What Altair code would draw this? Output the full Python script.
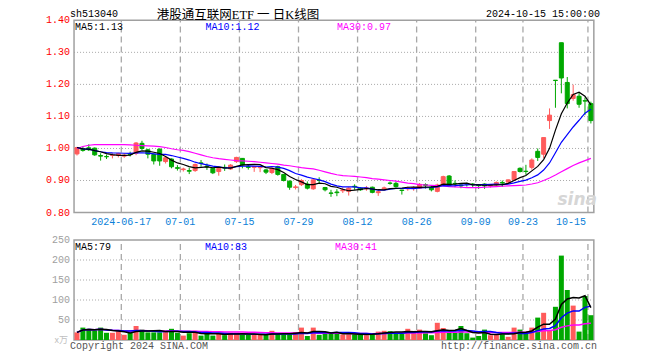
import altair as alt
import pandas as pd

# ---------------- data ----------------
dates = ["06-04", "06-05", "06-06", "06-07", "06-11", "06-12", "06-13", "06-14",
         "06-17", "06-18", "06-19", "06-20", "06-21",
         "06-24", "06-25", "06-26", "06-27", "06-28",
         "07-01", "07-02", "07-03", "07-04", "07-05",
         "07-08", "07-09", "07-10", "07-11", "07-12",
         "07-15", "07-16", "07-17", "07-18", "07-19",
         "07-22", "07-23", "07-24", "07-25", "07-26",
         "07-29", "07-30", "07-31", "08-01", "08-02",
         "08-05", "08-06", "08-07", "08-08", "08-09",
         "08-12", "08-13", "08-14", "08-15", "08-16",
         "08-19", "08-20", "08-21", "08-22", "08-23",
         "08-26", "08-27", "08-28", "08-29", "08-30",
         "09-02", "09-03", "09-04", "09-05", "09-06",
         "09-09", "09-10", "09-11", "09-12", "09-13",
         "09-18", "09-19", "09-20",
         "09-23", "09-24", "09-25", "09-26", "09-27",
         "09-30", "10-08", "10-09", "10-10", "10-11", "10-14", "10-15"]

opens = [0.983, 0.999, 1.002, 1.001, 0.978, 0.975, 0.978, 0.978, 0.976, 0.983,
         0.985, 1.016, 0.996, 0.981, 0.998, 0.959, 0.967, 0.940, 0.934, 0.931,
         0.931, 0.955, 0.945, 0.938, 0.928, 0.941, 0.936, 0.959, 0.969, 0.943,
         0.941, 0.940, 0.933, 0.925, 0.943, 0.919, 0.898, 0.878, 0.887, 0.889,
         0.874, 0.901, 0.878, 0.861, 0.864, 0.868, 0.866, 0.882, 0.876, 0.874,
         0.879, 0.862, 0.874, 0.892, 0.891, 0.870, 0.874, 0.875, 0.876, 0.887,
         0.879, 0.866, 0.886, 0.914, 0.891, 0.886, 0.890, 0.889, 0.886, 0.889,
         0.883, 0.886, 0.894, 0.895, 0.902, 0.938, 0.929, 0.941, 0.991, 0.982,
         1.087, 1.213, 1.330, 1.206, 1.156, 1.163, 1.149, 1.140]

highs = [1.005, 1.006, 1.013, 1.003, 0.985, 0.981, 0.985, 0.986, 0.984, 0.990,
         1.020, 1.024, 0.999, 0.984, 1.000, 0.977, 0.969, 0.948, 0.940, 0.940,
         0.953, 0.964, 0.953, 0.940, 0.940, 0.950, 0.951, 0.974, 0.970, 0.950,
         0.946, 0.946, 0.936, 0.941, 0.946, 0.920, 0.900, 0.886, 0.904, 0.897,
         0.904, 0.910, 0.880, 0.871, 0.873, 0.878, 0.879, 0.888, 0.879, 0.883,
         0.881, 0.871, 0.881, 0.897, 0.897, 0.871, 0.881, 0.882, 0.892, 0.891,
         0.883, 0.890, 0.915, 0.917, 0.900, 0.890, 0.893, 0.892, 0.888, 0.891,
         0.887, 0.897, 0.900, 0.903, 0.929, 0.941, 0.949, 0.969, 1.000, 1.034,
         1.125, 1.213, 1.330, 1.223, 1.199, 1.174, 1.159, 1.146]

lows = [0.978, 0.990, 0.992, 0.977, 0.962, 0.967, 0.969, 0.972, 0.971, 0.975,
        0.979, 0.995, 0.969, 0.950, 0.946, 0.953, 0.938, 0.931, 0.928, 0.920,
        0.927, 0.943, 0.933, 0.920, 0.915, 0.930, 0.933, 0.955, 0.938, 0.934,
        0.927, 0.926, 0.920, 0.920, 0.915, 0.897, 0.871, 0.872, 0.883, 0.872,
        0.871, 0.890, 0.866, 0.849, 0.851, 0.861, 0.853, 0.871, 0.868, 0.868,
        0.860, 0.852, 0.870, 0.887, 0.878, 0.856, 0.868, 0.868, 0.874, 0.875,
        0.866, 0.863, 0.884, 0.882, 0.879, 0.876, 0.881, 0.879, 0.874, 0.874,
        0.878, 0.882, 0.880, 0.893, 0.900, 0.925, 0.918, 0.934, 0.961, 0.970,
        1.061, 1.127, 1.172, 1.125, 1.149, 1.127, 1.104, 1.078]

closes = [1.003, 0.994, 0.996, 0.980, 0.976, 0.974, 0.979, 0.984, 0.979, 0.981,
          1.017, 1.000, 0.982, 0.961, 0.961, 0.971, 0.943, 0.938, 0.936, 0.929,
          0.950, 0.953, 0.943, 0.924, 0.938, 0.939, 0.948, 0.972, 0.948, 0.941,
          0.944, 0.942, 0.926, 0.938, 0.919, 0.900, 0.879, 0.880, 0.900, 0.876,
          0.902, 0.900, 0.871, 0.860, 0.862, 0.871, 0.876, 0.880, 0.871, 0.877,
          0.863, 0.865, 0.877, 0.891, 0.881, 0.869, 0.877, 0.878, 0.888, 0.885,
          0.871, 0.886, 0.912, 0.884, 0.890, 0.883, 0.889, 0.887, 0.884, 0.883,
          0.884, 0.894, 0.892, 0.902, 0.928, 0.928, 0.928, 0.964, 0.972, 1.034,
          1.104, 1.212, 1.220, 1.140, 1.168, 1.138, 1.148, 1.087]

volumes = [19, 31, 28, 24, 31, 18, 18, 22, 13, 18,
           35, 26, 19, 19, 19, 22, 28, 18, 11, 17,
           23, 11, 17, 11, 17, 12, 18, 18, 13, 13,
           13, 13, 13, 23, 14, 14, 14, 20, 31, 10,
           31, 13, 18, 17, 17, 14, 14, 14, 14, 12,
           17, 21, 23, 22, 17, 17, 28, 19, 26, 17,
           12, 43, 30, 18, 18, 35, 17, 6, 10, 26,
           12, 14, 14, 8, 31, 26, 17, 31, 56, 68,
           25, 83, 211, 125, 86, 21, 110, 62]

ma30_price = [1.000, 1.006, 1.010, 1.012, 1.012, 1.012, 1.012, 1.012, 1.012, 1.011,
              1.010, 1.009, 1.008, 1.007, 1.006, 1.003, 0.999, 0.996, 0.994, 0.990,
              0.985, 0.980, 0.975, 0.971, 0.968, 0.966, 0.964, 0.962, 0.961, 0.960,
              0.959, 0.957, 0.955, 0.953, 0.951, 0.948, 0.946, 0.943, 0.940, 0.938,
              0.936, 0.932, 0.927, 0.922, 0.918, 0.915, 0.914, 0.913, 0.911, 0.909,
              0.906, 0.904, 0.902, 0.900, 0.898, 0.895, 0.892, 0.890, 0.887, 0.886,
              0.885, 0.884, 0.883, 0.881, 0.880, 0.879, 0.878, 0.878, 0.878, 0.879,
              0.880, 0.881, 0.882, 0.883, 0.884, 0.885, 0.886, 0.889, 0.893, 0.900,
              0.908, 0.917, 0.927, 0.937, 0.947, 0.955, 0.962, 0.969]

tick_labels = ["2024-06-17", "07-01", "07-15", "07-29", "08-12", "08-26", "09-09", "09-23", "10-15"]
tick_index = [8, 18, 28, 38, 48, 58, 68, 76, 87]
price_ticks = [0.80, 0.90, 1.00, 1.10, 1.20, 1.30, 1.40]
price_tick_text = ["0.80", "0.90", "1.00", "1.10", "1.20", "1.30", "1.40"]
vol_ticks = [50, 100, 150, 200, 250]
vol_tick_text = ["50", "100", "150", "200", "250"]

# ---------------- styling ----------------
RED = "#ff5b5b"
GREEN = "#00a800"
MONO = "Liberation Mono"
BORDER = "#a0a0a0"
GRID = "#a8a8a8"

df = pd.DataFrame({
    "k": list(range(len(dates))), "date": dates,
    "open": opens, "high": highs, "low": lows, "close": closes,
    "vol": volumes, "ma30": ma30_price,
})
ticks_df = pd.DataFrame({"k": tick_index, "label": tick_labels})
pt_df = pd.DataFrame({"p": price_ticks, "t": price_tick_text})
vt_df = pd.DataFrame({"v": vol_ticks, "t": vol_tick_text})
one = pd.DataFrame({"a": [0]})

xs = alt.Scale(domain=[-10.8333, 96.5], nice=False, zero=False)
ps = alt.Scale(domain=[0.3647, 1.4384], nice=False, zero=False)
vs = alt.Scale(domain=[-30, 830], nice=False, zero=False)

X = alt.X("k:Q", scale=xs, axis=None)
up = "datum.close >= datum.open"
col = alt.condition(up, alt.value(RED), alt.value(GREEN))

XL = alt.XDatum(-0.5, scale=xs, type="quantitative", axis=None)
XR = alt.X2Datum(87.5)

# panel frames
price_frame = alt.Chart(one).mark_rect(fillOpacity=0, stroke=BORDER, strokeWidth=1.5).encode(
    x=XL, x2=XR,
    y=alt.YDatum(0.80, scale=ps, type="quantitative", axis=None), y2=alt.Y2Datum(1.40))
vol_frame = alt.Chart(one).mark_rect(fillOpacity=0, stroke=BORDER, strokeWidth=1.5).encode(
    x=XL, x2=XR,
    y=alt.YDatum(0, scale=vs, type="quantitative", axis=None), y2=alt.Y2Datum(250))

# horizontal dotted grids
pgrid = alt.Chart(pt_df).transform_filter("datum.p > 0.85 && datum.p < 1.35").mark_rule(
    color=GRID, strokeDash=[1, 2], strokeWidth=1).encode(
    y=alt.Y("p:Q", scale=ps, axis=None), x=XL, x2=XR)
vgrid = alt.Chart(vt_df).transform_filter("datum.v < 240").mark_rule(
    color=GRID, strokeDash=[1, 2], strokeWidth=1).encode(
    y=alt.Y("v:Q", scale=vs, axis=None), x=XL, x2=XR)

# vertical dashed grids
xg = alt.X("xg:Q", scale=xs, axis=None)
vline_p = alt.Chart(ticks_df).transform_calculate(xg="datum.k - 0.5").mark_rule(
    color=GRID, strokeDash=[6, 4], strokeWidth=1.3).encode(
    x=xg, y=alt.YDatum(0.80, scale=ps, type="quantitative", axis=None), y2=alt.Y2Datum(1.40))
vline_v = alt.Chart(ticks_df).transform_calculate(xg="datum.k - 0.5").mark_rule(
    color=GRID, strokeDash=[6, 4], strokeWidth=1.3).encode(
    x=xg, y=alt.YDatum(0, scale=vs, type="quantitative", axis=None), y2=alt.Y2Datum(250))

# volume bars and MAs
vbars = alt.Chart(df).mark_bar(size=5).encode(
    x=X, y=alt.Y("vol:Q", scale=vs, axis=None), y2=alt.datum(0), color=col)


def vol_ma(n, color):
    return alt.Chart(df).transform_window(
        m="mean(vol)", frame=[-(n - 1), 0], sort=[alt.SortField("k")]
    ).mark_line(color=color, strokeWidth=1.5).encode(
        x=X, y=alt.Y("m:Q", scale=vs, axis=None))


# candles
wicks = alt.Chart(df).mark_rule(strokeWidth=1).encode(
    x=X, y=alt.Y("low:Q", scale=ps, axis=None), y2="high:Q", color=col)
bodies = alt.Chart(df).mark_bar(size=4, strokeWidth=1).encode(
    x=X, y=alt.Y("open:Q", scale=ps, axis=None), y2="close:Q", color=col,
    stroke=alt.condition(up, alt.value(RED), alt.value(GREEN)))


def price_ma(n, color):
    return alt.Chart(df).transform_window(
        m="mean(close)", frame=[-(n - 1), 0], sort=[alt.SortField("k")]
    ).mark_line(color=color, strokeWidth=1.2).encode(
        x=X, y=alt.Y("m:Q", scale=ps, axis=None))


ma30_line = alt.Chart(df).mark_line(color="#ff00ff", strokeWidth=1.2).encode(
    x=X, y=alt.Y("ma30:Q", scale=ps, axis=None))

# axis labels
plabels = alt.Chart(pt_df).mark_text(align="right", baseline="middle", dx=-4,
                                     font=MONO, fontSize=10, color="#ff0000").encode(
    x=XL, y=alt.Y("p:Q", scale=ps, axis=None), text="t:N")
vlabels = alt.Chart(vt_df).mark_text(align="right", baseline="middle", dx=-4,
                                     font=MONO, fontSize=10, color="#a0a0a0").encode(
    x=XL, y=alt.Y("v:Q", scale=vs, axis=None), text="t:N")
unit_label = alt.Chart(one).mark_text(align="right", baseline="middle", dx=-6,
                                      font="Noto Sans CJK SC", fontSize=9, color="#c0c0c0",
                                      text="x万").encode(
    x=XL, y=alt.YDatum(0, scale=vs, type="quantitative", axis=None))
dlabels = alt.Chart(ticks_df).transform_filter("datum.k < 87").transform_calculate(
    xg="datum.k - 0.5").mark_text(align="center", baseline="middle", dy=9,
                                  font=MONO, fontSize=10, color="#0b7fd8").encode(
    x=xg, y=alt.YDatum(0.80, scale=ps, type="quantitative", axis=None), text="label:N")
dlabel_last = alt.Chart(ticks_df).transform_filter("datum.k >= 87").transform_calculate(
    xg="datum.k - 0.5").mark_text(align="right", baseline="middle", dy=9, dx=-2,
                                  font=MONO, fontSize=10, color="#0b7fd8").encode(
    x=xg, y=alt.YDatum(0.80, scale=ps, type="quantitative", axis=None), text="label:N")


def label(txt, x, y, color="#000000", align="left", size=10, font=MONO, **kw):
    return alt.Chart(one).mark_text(text=txt, align=align, baseline="alphabetic",
                                    font=font, fontSize=size, color=color, **kw).encode(
        x=alt.value(x), y=alt.value(y))


texts = [
    label("sh513040", 62, 8.5),
    label("港股通互联网ETF 一 日K线图", 230, 11.2, align="center", size=12.5,
          font="Liberation Serif, 'Noto Sans CJK SC'"),
    label("2024-10-15 15:00:00", 592, 8.5, align="right"),
    label("MA5:1.13", 67, 21.5),
    label("MA10:1.12", 197.5, 21.5, color="#0000ff"),
    label("MA30:0.97", 329, 21.5, color="#ff00ff"),
    label("MA5:79", 67, 242),
    label("MA10:83", 197, 242, color="#0000ff"),
    label("MA30:41", 327, 242, color="#ff00ff"),
    label("Copyright 2024 SINA.COM", 62, 341, color="#555555"),
    label("http://finance.sina.com.cn", 589, 341, color="#555555", align="right"),
    label("sina", 589, 197, color="#d6d6d6", align="right", size=17, font="DejaVu Sans",
          fontStyle="italic", fontWeight="bold"),
]

chart = alt.layer(
    pgrid, vgrid, vline_p, vline_v, price_frame, vol_frame,
    vbars, vol_ma(30, "#ff00ff"), vol_ma(10, "#0000ff"), vol_ma(5, "#000000"),
    wicks, bodies, ma30_line, price_ma(10, "#0000ff"), price_ma(5, "#000000"),
    plabels, vlabels, unit_label, dlabels, dlabel_last, *texts,
).resolve_scale(y="independent").properties(
    width=644, height=344, padding=0,
    autosize=alt.AutoSizeParams(type="none"),
    background="#ffffff",
).configure_view(strokeWidth=0)

chart.save("out.html", embed_options={"renderer": "svg", "actions": False})
